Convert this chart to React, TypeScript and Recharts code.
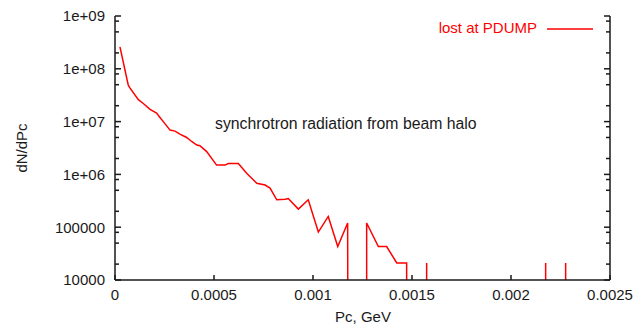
import React from "react";
import { LineChart, Line, XAxis, YAxis, Customized } from "recharts";

// empty histogram bins sit far below the axis floor so they drop off the plot
const EMPTY = 1;

const pcGeV = [
  0.000025, 0.000067, 0.000076, 0.000118, 0.000143, 0.000177, 0.00021, 0.000227,
  0.000244, 0.000278, 0.000303, 0.000328, 0.000362, 0.000387, 0.000413, 0.000429,
  0.000463, 0.000513, 0.000556, 0.000572, 0.000623, 0.000665, 0.000716, 0.000758,
  0.000783, 0.000817, 0.000859, 0.000875, 0.000926, 0.000976, 0.001027, 0.001077,
  0.001125, 0.001175, 0.001178, 0.001271, 0.001271, 0.00133, 0.001372, 0.001423,
  0.001473, 0.001473, 0.001574, 0.001574, 0.001574, 0.002175, 0.002175, 0.002175,
  0.002276, 0.002276, 0.002276,
];

const dNdPc = [
  2.6e8, 4.9e7, 4.3e7, 2.6e7, 2.2e7, 1.7e7, 1.45e7, 1.2e7,
  1.0e7, 6.9e6, 6.6e6, 5.8e6, 5.0e6, 4.2e6, 3.6e6, 3.5e6,
  2.7e6, 1.5e6, 1.5e6, 1.6e6, 1.6e6, 1.05e6, 6.8e5, 6.3e5,
  5.5e5, 3.3e5, 3.4e5, 3.5e5, 2.2e5, 3.3e5, 8.1e4, 1.6e5,
  4.3e4, 1.2e5, EMPTY, EMPTY, 1.2e5, 4.3e4, 4.3e4, 2.1e4,
  2.1e4, EMPTY, EMPTY, 2.1e4, EMPTY, EMPTY, 2.1e4, EMPTY,
  EMPTY, 2.1e4, EMPTY,
];

const xTicks = [0, 0.0005, 0.001, 0.0015, 0.002, 0.0025];
const xTickLabels = ["0", "0.0005", "0.001", "0.0015", "0.002", "0.0025"];

const yMajorTicks = [1e4, 1e5, 1e6, 1e7, 1e8, 1e9];
const yTickLabels = ["10000", "100000", "1e+06", "1e+07", "1e+08", "1e+09"];
const yMinorTicks = [
  2e4, 5e4, 8e4, 2e5, 5e5, 8e5, 2e6, 5e6, 8e6, 2e7, 5e7, 8e7, 2e8, 5e8, 8e8,
];

const data = pcGeV.map((pc, i) => ({ pc, n: dNdPc[i] }));
const yAllTicks = [...yMajorTicks, ...yMinorTicks].sort((a, b) => a - b);

const PLOT_LEFT = 115;
const PLOT_RIGHT = 610;
const PLOT_TOP = 16;
const PLOT_BOTTOM = 280;
const FONT = "'Liberation Sans', Arial, Helvetica, sans-serif";
const INK = "#1a1a1a";

const isMajor = (v: number) => yMajorTicks.includes(v);

const LeftTick = (props: any) => {
  const { y, payload } = props;
  const major = isMajor(payload.value);
  const label = yTickLabels[yMajorTicks.indexOf(payload.value)];
  return (
    <g>
      <line x1={PLOT_LEFT} x2={PLOT_LEFT + (major ? 6 : 4)} y1={y} y2={y} stroke={INK} strokeWidth={1.5} />
      {major && (
        <text x={105} y={y} dy="0.36em" textAnchor="end" fontSize={15} fontFamily={FONT} fill={INK}>
          {label}
        </text>
      )}
    </g>
  );
};

const RightTick = (props: any) => {
  const { y, payload } = props;
  const major = isMajor(payload.value);
  return (
    <line x1={PLOT_RIGHT} x2={PLOT_RIGHT - (major ? 6 : 4)} y1={y} y2={y} stroke={INK} strokeWidth={1.5} />
  );
};

const BottomTick = (props: any) => {
  const { x, payload } = props;
  const label = xTickLabels[xTicks.indexOf(payload.value)];
  return (
    <g>
      <line x1={x} x2={x} y1={PLOT_BOTTOM} y2={PLOT_BOTTOM - 5} stroke={INK} strokeWidth={1.5} />
      <text x={x} y={295} dy="0.36em" textAnchor="middle" fontSize={15} fontFamily={FONT} fill={INK}>
        {label}
      </text>
    </g>
  );
};

const TopTick = (props: any) => {
  const { x } = props;
  return <line x1={x} x2={x} y1={PLOT_TOP} y2={PLOT_TOP + 5} stroke={INK} strokeWidth={1.5} />;
};

const Extras = () => (
  <g fontFamily={FONT} fontSize={15}>
    <text x={215} y={123} dy="0.36em" fontSize={15.8} fill={INK}>
      synchrotron radiation from beam halo
    </text>
    <text x={537} y={28} dy="0.36em" textAnchor="end" fill="#ff0000">
      lost at PDUMP
    </text>
    <line x1={547} x2={593} y1={29} y2={29} stroke="#ff0000" strokeWidth={1.5} />
    <text x={363} y={317} dy="0.36em" textAnchor="middle" fill={INK}>
      Pc, GeV
    </text>
    <text x={22} y={148} dy="0.36em" textAnchor="middle" fill={INK} transform="rotate(-90 22 148)">
      dN/dPc
    </text>
  </g>
);

export default function App() {
  return (
    <div style={{ position: "absolute", left: 0, top: 0, width: 636, height: 329, background: "#fff" }}>
      <LineChart width={636} height={329} data={data} margin={{ top: PLOT_TOP, right: 0, bottom: 0, left: 0 }}>
        <XAxis
          xAxisId="bottom"
          dataKey="pc"
          type="number"
          domain={[0, 0.0025]}
          ticks={xTicks}
          allowDataOverflow
          height={49}
          axisLine={{ stroke: INK, strokeWidth: 1.5 }}
          tickLine={false}
          tick={<BottomTick />}
          interval={0}
        />
        <XAxis
          xAxisId="top"
          orientation="top"
          dataKey="pc"
          type="number"
          domain={[0, 0.0025]}
          ticks={xTicks}
          allowDataOverflow
          height={0}
          axisLine={{ stroke: INK, strokeWidth: 1.5 }}
          tickLine={false}
          tick={<TopTick />}
          interval={0}
        />
        <YAxis
          yAxisId="left"
          scale="log"
          type="number"
          domain={[1e4, 1e9]}
          ticks={yAllTicks}
          allowDataOverflow
          width={115}
          axisLine={{ stroke: INK, strokeWidth: 1.5 }}
          tickLine={false}
          tick={<LeftTick />}
          interval={0}
        />
        <YAxis
          yAxisId="right"
          orientation="right"
          scale="log"
          type="number"
          domain={[1e4, 1e9]}
          ticks={yAllTicks}
          allowDataOverflow
          width={26}
          axisLine={{ stroke: INK, strokeWidth: 1.5 }}
          tickLine={false}
          tick={<RightTick />}
          interval={0}
        />
        <Line
          xAxisId="bottom"
          yAxisId="left"
          dataKey="n"
          type="linear"
          stroke="#ff0000"
          strokeWidth={1.5}
          dot={false}
          isAnimationActive={false}
        />
        <Customized component={Extras} />
      </LineChart>
    </div>
  );
}
